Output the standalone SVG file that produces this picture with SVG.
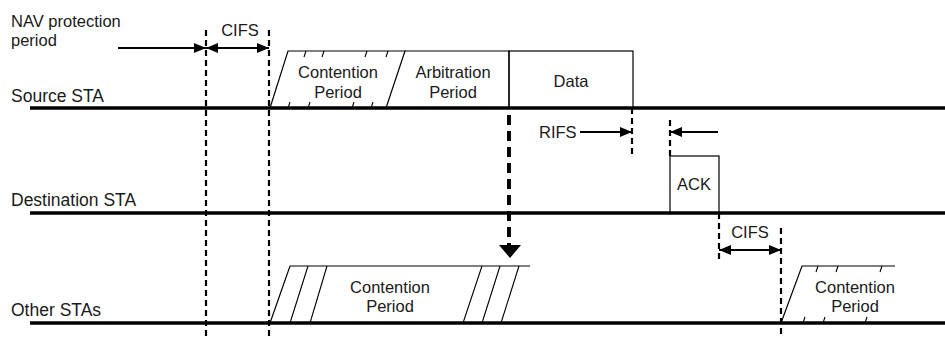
<svg xmlns="http://www.w3.org/2000/svg" width="945" height="337" viewBox="0 0 945 337">
<defs>
<style>
text{font-family:"Liberation Sans",Arial,sans-serif;fill:#1a1a1a;font-size:16.5px}
.lbl{font-size:17.5px}
.c{text-anchor:middle}
.axis{stroke:#000;stroke-width:3.5;fill:none}
.dash{stroke:#000;stroke-width:2.2;stroke-dasharray:6 4;fill:none}
.box{stroke:#000;stroke-width:1.2;fill:none}
.thin{stroke:#000;stroke-width:1.1;fill:none}
.arr{stroke:#000;stroke-width:2.2;fill:none}
</style>
<marker id="ah" viewBox="0 0 12 10" refX="12" refY="5" markerWidth="12" markerHeight="10" markerUnits="userSpaceOnUse" orient="auto-start-reverse">
<path d="M0,0 L12,5 L0,10 Z" fill="#000"/>
</marker>
</defs>

<g id="labels">
<text x="11" y="27">NAV protection</text>
<text x="11" y="46">period</text>
<text class="lbl" x="11" y="102">Source STA</text>
<text class="lbl" x="11" y="206">Destination STA</text>
<text class="lbl" x="11" y="316">Other STAs</text>
</g>

<g id="timelines">
<line class="axis" x1="30" y1="108" x2="945" y2="108"/>
<line class="axis" x1="30" y1="213" x2="945" y2="213"/>
<line class="axis" x1="30" y1="323" x2="945" y2="323"/>
</g>

<g id="src-contention">
<path class="box" d="M270,108 L288,51 L405,51 L386,108"/>
<path class="thin" d="M306,51 L304,57 M324,51 L322,57 M367,51 L365,57 M388,51 L386,57 M288,108 L290,102 M308,108 L310,102 M352,108 L354,102 M371,108 L373,102"/>
<text class="c" x="338" y="78">Contention</text>
<text class="c" x="338" y="98">Period</text>
</g>

<g id="src-arbitration">
<path class="box" d="M405,51 L509,51 L509,108"/>
<text class="c" x="453" y="78">Arbitration</text>
<text class="c" x="453" y="98">Period</text>
</g>

<g id="src-data">
<rect class="box" x="509" y="51" width="124" height="57"/>
<text class="c" x="571" y="87">Data</text>
</g>

<g id="ack">
<rect class="box" x="670" y="156" width="49" height="57"/>
<text class="c" x="694" y="190">ACK</text>
</g>

<g id="other-contention">
<path class="box" d="M270,323 L290,266 L530,266"/>
<path class="thin" d="M290,323 L308,266 M310,323 L327,266 M463,323 L482,266 M482,323 L500,266 M501,323 L519,266"/>
<text class="c" x="390" y="293">Contention</text>
<text class="c" x="390" y="312">Period</text>
</g>

<g id="other-contention-2">
<path class="box" d="M781,323 L802,266 L895,266"/>
<path class="thin" d="M818,266 L816,272 M838,266 L836,272 M882,266 L880,272 M803,323 L805,317 M823,323 L825,317 M865,323 L867,317"/>
<text class="c" x="855" y="293">Contention</text>
<text class="c" x="855" y="312">Period</text>
</g>

<g id="connectors">
<line class="dash" x1="206" y1="30" x2="206" y2="337"/>
<line class="dash" x1="269" y1="30" x2="269" y2="337"/>
<line class="arr" x1="118" y1="48" x2="206" y2="48" marker-end="url(#ah)"/>
<line class="arr" x1="206" y1="48" x2="269" y2="48" marker-start="url(#ah)" marker-end="url(#ah)"/>
<text class="c" x="240" y="36">CIFS</text>

<line x1="509" y1="115" x2="509" y2="245" stroke="#000" stroke-width="4" stroke-dasharray="10 6"/>
<path d="M499,245 L521,245 L510,258 Z" fill="#000"/>

<line class="dash" x1="632" y1="108" x2="632" y2="156"/>
<text x="539" y="138">RIFS</text>
<line class="arr" x1="580" y1="132" x2="632" y2="132" marker-end="url(#ah)"/>

<line class="dash" x1="670" y1="120" x2="670" y2="156"/>
<line class="arr" x1="718" y1="132" x2="670" y2="132" marker-end="url(#ah)"/>

<line class="dash" x1="719" y1="213" x2="719" y2="262"/>
<line class="dash" x1="781" y1="228" x2="781" y2="337"/>
<line class="arr" x1="719" y1="250" x2="781" y2="250" marker-start="url(#ah)" marker-end="url(#ah)"/>
<text class="c" x="750" y="238">CIFS</text>
</g>
</svg>
